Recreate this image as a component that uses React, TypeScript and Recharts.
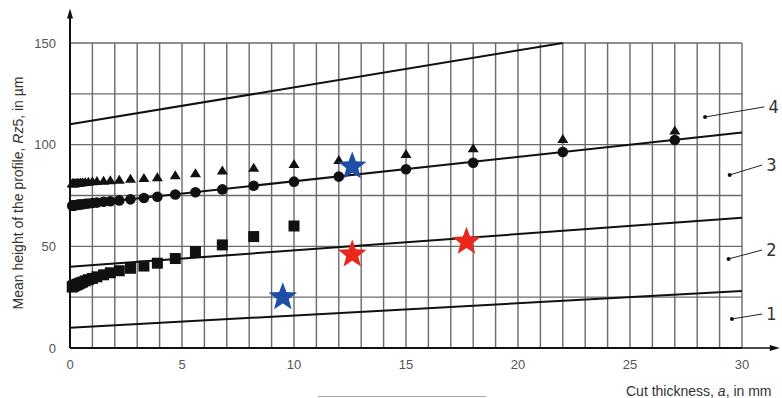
import {
  ComposedChart,
  Scatter,
  XAxis,
  YAxis,
  CartesianGrid,
  ReferenceLine,
  ReferenceDot,
} from 'recharts';

// cut thickness values (mm) where measurements were taken
const cutX = [
  0.1, 0.12, 0.15, 0.18, 0.22, 0.27, 0.33, 0.39, 0.47, 0.56, 0.68, 0.82, 1.0, 1.2, 1.5, 1.8, 2.2,
  2.7, 3.3, 3.9, 4.7, 5.6, 6.8, 8.2, 10, 12, 15, 18, 22, 27,
];
const triangleY = [
  81, 81, 81, 81, 81, 81.1, 81.2, 81.3, 81.4, 81.5, 81.6, 81.8, 82, 82.1, 82.3, 82.5, 82.8, 83.2,
  83.6, 84, 85, 86, 87.3, 88.7, 90.5, 92.5, 95.4, 98.2, 102.8, 107,
];
const circleY = [
  70, 70, 70.1, 70.1, 70.2, 70.3, 70.4, 70.5, 70.6, 70.7, 70.9, 71.1, 71.3, 71.5, 71.9, 72.2,
  72.6, 73.1, 73.8, 74.4, 75.5, 76.6, 78, 79.8, 81.8, 84.3, 87.9, 91.1, 96.4, 102.3,
];
const squareY = [
  30, 30.2, 30.4, 30.6, 30.8, 31, 31.3, 31.6, 32, 32.4, 33, 33.6, 34.2, 35, 36, 37, 38, 39.2, 40.3,
  41.7, 44, 47.4, 50.7, 54.8, 60,
];

const blueStars = [
  { x: 9.5, y: 25 },
  { x: 12.6, y: 89.3 },
];
const redStars = [
  { x: 12.6, y: 46 },
  { x: 17.7, y: 52.3 },
];

// limit lines 1..4: start and end points
const limitLines = [
  [{ x: 0, y: 10 }, { x: 30, y: 28 }],
  [{ x: 0, y: 40 }, { x: 30, y: 64 }],
  [{ x: 0, y: 70 }, { x: 30, y: 106 }],
  [{ x: 0, y: 110 }, { x: 22, y: 150 }],
];
const lineLabels = ['1', '2', '3', '4'];
// leader: dot inside plot -> end near the number
const leaderDots = [
  { x: 29.55, y: 14.3 },
  { x: 29.4, y: 43.8 },
  { x: 29.45, y: 85.1 },
  { x: 28.35, y: 113.6 },
];
const leaderEnds = [
  { x: 30.9, y: 16.7 },
  { x: 30.9, y: 48.2 },
  { x: 30.9, y: 90 },
  { x: 31.0, y: 118.6 },
];

const xTicks = Array.from({ length: 31 }, (_, i) => i);
const yTicks = [0, 25, 50, 75, 100, 125, 150];

const triangles = cutX.map((x, i) => ({ x, y: triangleY[i] }));
const circles = cutX.map((x, i) => ({ x, y: circleY[i] }));
const squares = squareY.map((y, i) => ({ x: cutX[i], y }));

const starPath = (cx: number, cy: number, R: number) => {
  const r = R * 0.42;
  const pts: string[] = [];
  for (let i = 0; i < 10; i++) {
    const a = -Math.PI / 2 + (i * Math.PI) / 5;
    const rr = i % 2 === 0 ? R : r;
    pts.push(`${cx + rr * Math.cos(a)},${cy + rr * Math.sin(a)}`);
  }
  return pts.join(' ');
};

const tickFont = { fontSize: 13, fill: '#555', fontFamily: 'Liberation Sans, Arial, sans-serif' };

export default function App() {
  return (
    <div style={{ position: 'absolute', left: 0, top: 0, width: 782, height: 398, background: '#fff', overflow: 'hidden' }}>
      <ComposedChart
        width={782}
        height={398}
        margin={{ top: 43, right: 40, left: 0, bottom: 0 }}
      >
        <CartesianGrid stroke="#6a6a6a" strokeWidth={1.4} />
        <XAxis
          type="number"
          dataKey="x"
          domain={[0, 30]}
          ticks={xTicks}
          interval={0}
          tickLine={false}
          axisLine={{ stroke: '#111', strokeWidth: 2 }}
          tick={tickFont}
          tickFormatter={(v) => (v % 5 === 0 ? String(v) : '')}
          height={50}
          tickMargin={6}
        />
        <YAxis
          type="number"
          dataKey="y"
          domain={[0, 150]}
          ticks={yTicks}
          interval={0}
          tickLine={false}
          axisLine={{ stroke: '#111', strokeWidth: 2 }}
          tick={tickFont}
          tickFormatter={(v) => (v % 50 === 0 ? String(v) : '')}
          width={70}
          tickMargin={8}
        />

        {/* axis extensions with arrows */}
        <ReferenceLine
          segment={[{ x: 0, y: 0 }, { x: 31.5, y: 0 }]}
          stroke="#111"
          strokeWidth={1.5}
          ifOverflow="visible"
        />
        <ReferenceLine
          segment={[{ x: 0, y: 0 }, { x: 0, y: 165 }]}
          stroke="#111"
          strokeWidth={2}
          ifOverflow="visible"
        />
        <ReferenceDot
          x={31.6}
          y={0}
          ifOverflow="visible"
          shape={(p: any) => (
            <polygon points={`${p.cx + 2},${p.cy} ${p.cx - 8},${p.cy - 3} ${p.cx - 8},${p.cy + 3}`} fill="#111" />
          )}
        />
        <ReferenceDot
          x={0}
          y={166}
          ifOverflow="visible"
          shape={(p: any) => (
            <polygon points={`${p.cx},${p.cy - 2} ${p.cx - 3},${p.cy + 8} ${p.cx + 3},${p.cy + 8}`} fill="#111" />
          )}
        />

        {limitLines.map((seg, i) => (
          <ReferenceLine key={`l${i}`} segment={seg} stroke="#111" strokeWidth={2} />
        ))}

        {leaderDots.map((d, i) => (
          <ReferenceLine
            key={`ld${i}`}
            segment={[d, leaderEnds[i]]}
            stroke="#222"
            strokeWidth={1}
            ifOverflow="visible"
          />
        ))}
        {leaderDots.map((d, i) => (
          <ReferenceDot key={`dd${i}`} x={d.x} y={d.y} r={2} fill="#111" stroke="none" ifOverflow="visible" />
        ))}
        {leaderEnds.map((d, i) => (
          <ReferenceDot
            key={`lt${i}`}
            x={d.x}
            y={d.y}
            ifOverflow="visible"
            shape={(p: any) => (
              <text
                x={p.cx + 4}
                y={p.cy + 6}
                fontSize={18}
                fill="#333"
                fontFamily="DejaVu Sans Condensed, Liberation Sans, sans-serif"
              >
                {lineLabels[i]}
              </text>
            )}
          />
        ))}

        <Scatter
          data={squares}
          isAnimationActive={false}
          shape={(p: any) => <rect x={p.cx - 5.5} y={p.cy - 5.5} width={11} height={11} fill="#111" />}
        />
        <Scatter
          data={circles}
          isAnimationActive={false}
          shape={(p: any) => <circle cx={p.cx} cy={p.cy} r={5.3} fill="#111" />}
        />
        <Scatter
          data={triangles}
          isAnimationActive={false}
          shape={(p: any) => (
            <polygon points={`${p.cx},${p.cy - 5} ${p.cx - 5.5},${p.cy + 4} ${p.cx + 5.5},${p.cy + 4}`} fill="#111" />
          )}
        />
        <Scatter
          data={blueStars}
          isAnimationActive={false}
          shape={(p: any) => <polygon points={starPath(p.cx, p.cy, 15)} fill="#1f4ea6" />}
        />
        <Scatter
          data={redStars}
          isAnimationActive={false}
          shape={(p: any) => <polygon points={starPath(p.cx, p.cy, 15)} fill="#e8281d" />}
        />
      </ComposedChart>

      <div
        style={{
          position: 'absolute',
          left: 18,
          top: 193,
          transform: 'translate(-50%, -50%) rotate(-90deg)',
          whiteSpace: 'nowrap',
          fontFamily: 'Liberation Sans, Arial, sans-serif',
          fontSize: 14,
          color: '#333',
        }}
      >
        Mean height of the profile, <i>Rz</i>5, in µm
      </div>
      <div
        style={{
          position: 'absolute',
          left: 626,
          top: 383,
          whiteSpace: 'nowrap',
          fontFamily: 'Liberation Sans, Arial, sans-serif',
          fontSize: 14,
          color: '#333',
        }}
      >
        Cut thickness, <i>a</i>, in mm
      </div>
      <div
        style={{
          position: 'absolute',
          left: 318,
          top: 396,
          width: 168,
          height: 1,
          background: '#aaa',
        }}
      />
    </div>
  );
}
